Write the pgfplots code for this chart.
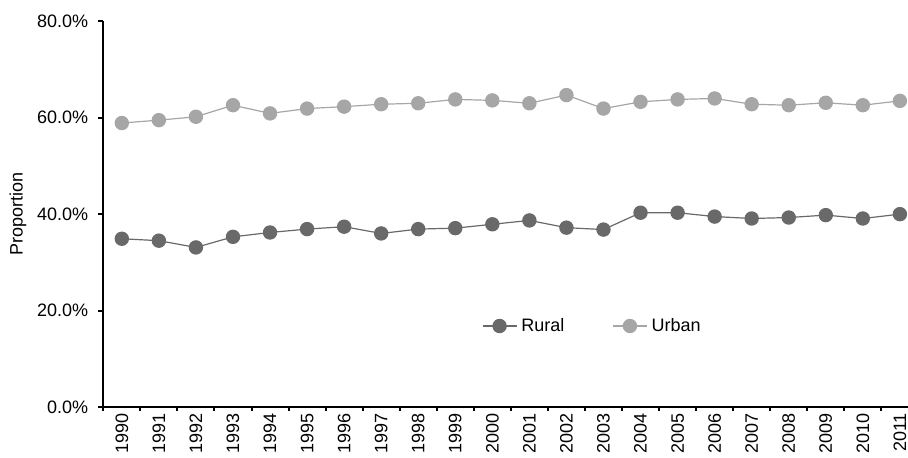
\documentclass[border=0pt]{standalone}
\usepackage{pgfplots}
\pgfplotsset{compat=1.18}
\usepackage{fontspec}
\setmainfont{Liberation Sans}
\definecolor{rural}{HTML}{696969}
\definecolor{urban}{HTML}{A6A6A6}
\pgfplotstableread{
x year rural urban
0 1990 34.9 58.9
1 1991 34.5 59.5
2 1992 33.1 60.2
3 1993 35.3 62.6
4 1994 36.2 60.9
5 1995 36.9 61.9
6 1996 37.4 62.3
7 1997 36.0 62.8
8 1998 36.9 63.0
9 1999 37.1 63.8
10 2000 37.9 63.6
11 2001 38.7 63.0
12 2002 37.2 64.7
13 2003 36.8 61.9
14 2004 40.3 63.3
15 2005 40.3 63.8
16 2006 39.5 64.0
17 2007 39.1 62.8
18 2008 39.3 62.6
19 2009 39.8 63.1
20 2010 39.1 62.6
21 2011 40.0 63.5
}\datatable
\begin{document}
\begin{tikzpicture}[font=\fontsize{9}{10.8}\selectfont]
\path[use as bounding box] (0,0) rectangle (454pt,228.5pt);
\begin{scope}
\clip (0,0) rectangle (454pt,228.5pt);
\begin{axis}[
  at={(51.65pt,25pt)}, anchor=south west,
  scale only axis, width=407.55pt, height=192.85pt,
  xmin=-0.5, xmax=21.5, ymin=0, ymax=80,
  axis x line*=bottom, axis y line*=left,
  axis line style={line width=1pt, -},
  tick align=outside,
  major tick length=2.5pt, minor tick length=2pt,
  every tick/.style={black, line width=1pt},
  xtick={0,...,21},
  xticklabels={1990,1991,1992,1993,1994,1995,1996,1997,1998,1999,2000,2001,2002,2003,2004,2005,2006,2007,2008,2009,2010,2011},
  major x tick style={draw=none},
  minor xtick={-0.5,0.5,...,21.5},
  xticklabel style={rotate=90, anchor=east, xshift=-0.3pt, inner sep=0pt},
  ytick={0,20,40,60,80},
  yticklabels={0.0\%,20.0\%,40.0\%,60.0\%,80.0\%},
  yticklabel style={xshift=-1.5pt},
  ylabel={Proportion},
  ylabel style={at={(axis description cs:-0.1047,0.5)}, anchor=center},
  legend columns=2,
  legend style={draw=none, fill=none, at={(0.464,0.21)}, anchor=west, inner sep=0pt,
    /tikz/every even column/.append style={column sep=22pt}},
  legend cell align=left,
]
\addplot[color=rural, line width=0.6pt, mark=*, mark size=3.3pt, mark options={fill=rural, draw=rural}] table[x=x, y=rural] {\datatable};
\addlegendentry{Rural}
\addplot[color=urban, line width=0.6pt, mark=*, mark size=3.3pt, mark options={fill=urban, draw=urban}] table[x=x, y=urban] {\datatable};
\addlegendentry{Urban}
\end{axis}
\end{scope}
\end{tikzpicture}
\end{document}
